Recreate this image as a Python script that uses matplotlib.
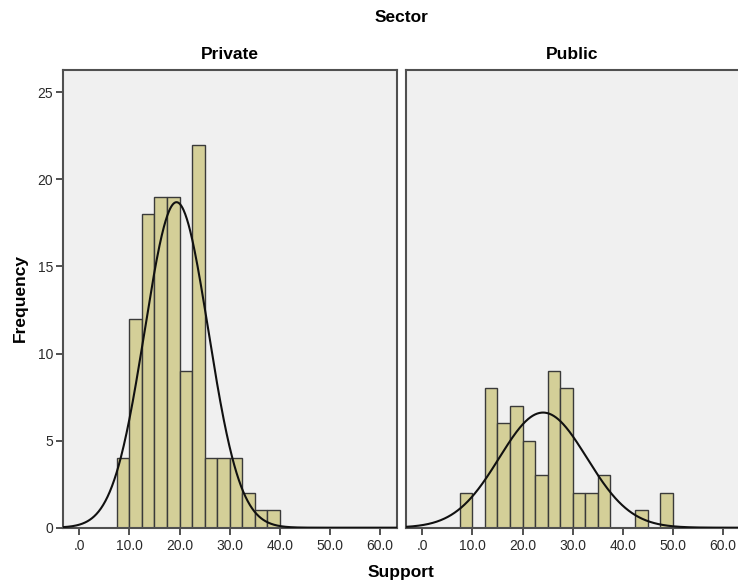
import numpy as np
import matplotlib
matplotlib.use("Agg")
import matplotlib.pyplot as plt

plt.rcParams['font.family'] = ['Liberation Sans', 'DejaVu Sans']

# Histogram bins (width 2.5) shared by both sectors
bin_edges = np.arange(7.5, 50.01, 2.5)

# Counts per bin, starting at 7.5
private_counts = [4, 12, 18, 19, 19, 9, 22, 4, 4, 4, 2, 1, 1, 0, 0, 0, 0]
public_counts = [2, 0, 8, 6, 7, 5, 3, 9, 8, 2, 2, 3, 0, 0, 1, 0, 2]

# Fitted normal parameters per sector
private_mean, private_sd = 19.4, 6.35
public_mean, public_sd = 24.1, 8.75

panels = [
    ("Private", private_counts, private_mean, private_sd),
    ("Public", public_counts, public_mean, public_sd),
]

x_ticks = [0, 10, 20, 30, 40, 50, 60]
x_tick_labels = [".0", "10.0", "20.0", "30.0", "40.0", "50.0", "60.0"]
y_ticks = [0, 5, 10, 15, 20, 25]

bar_color = "#d4cf98"
edge_color = "#3a3a3a"
panel_bg = "#f0f0f0"
spine_color = "#505050"

fig = plt.figure(figsize=(7.38, 5.84), dpi=100)
W, H = 738, 584

def px_axes(left, top, right, bottom):
    return fig.add_axes([left / W, 1 - bottom / H, (right - left) / W, (bottom - top) / H])

ax_boxes = [(62.7, 70, 396.5, 527.7), (405.7, 70, 739.5, 527.7)]

for i, ((name, counts, mu, sd), box) in enumerate(zip(panels, ax_boxes)):
    ax = px_axes(*box)
    ax.set_facecolor(panel_bg)
    counts = np.asarray(counts)
    lefts = bin_edges[:-1]
    mask = counts > 0
    ax.bar(lefts[mask], counts[mask], width=2.5, align="edge",
           color=bar_color, edgecolor=edge_color, linewidth=1.0, zorder=2)
    n = counts.sum()
    xs = np.linspace(-3.4, 63.4, 600)
    ys = n * 2.5 / (sd * np.sqrt(2 * np.pi)) * np.exp(-0.5 * ((xs - mu) / sd) ** 2)
    ax.plot(xs, ys, color="#111111", linewidth=1.5, zorder=3)
    ax.set_xlim(-3.33, 63.33)
    ax.set_ylim(0, 26.28)
    ax.set_xticks(x_ticks)
    ax.set_xticklabels(x_tick_labels, fontsize=10, color="#2a2a2a")
    ax.tick_params(axis="x", length=5, width=1.2, color="#333333", pad=3)
    if i == 0:
        ax.set_yticks(y_ticks)
        ax.set_yticklabels([str(v) for v in y_ticks], fontsize=10, color="#2a2a2a")
        ax.tick_params(axis="y", length=5, width=1.2, color="#333333", pad=2)
    else:
        ax.set_yticks([])
    for sp in ax.spines.values():
        sp.set_color(spine_color)
        sp.set_linewidth(1.5)
    ax.text(0.5, 1.0 + 16 / 458, name, transform=ax.transAxes, ha="center",
            va="center", fontsize=12.5, fontweight="bold")

fig.text(401.5 / W, 1 - 18 / H, "Sector", ha="center", va="center",
         fontsize=12.5, fontweight="bold")
fig.text(401.5 / W, 1 - 572 / H, "Support", ha="center", va="center",
         fontsize=12.5, fontweight="bold")
fig.text(20 / W, 1 - 298 / H, "Frequency", ha="center", va="center",
         rotation=90, fontsize=12.5, fontweight="bold")

fig.savefig("out.png", dpi=100, facecolor="white")
